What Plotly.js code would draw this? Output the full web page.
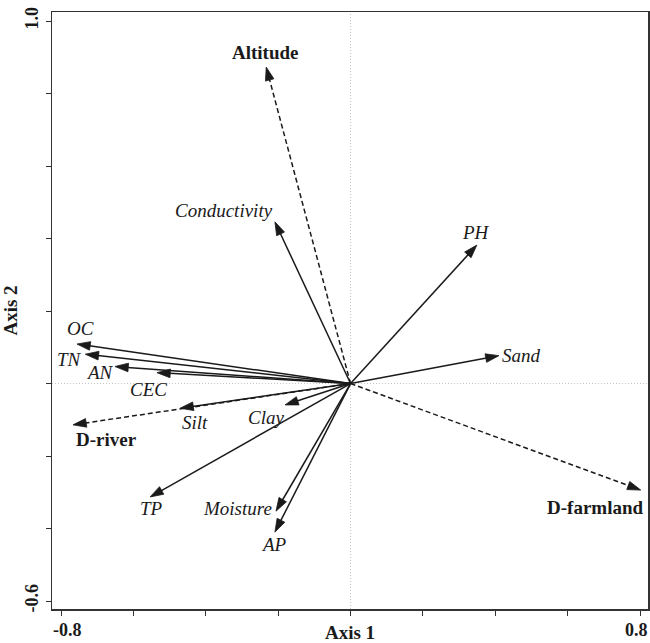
<!DOCTYPE html>
<html>
<head>
<meta charset="utf-8">
<script src="https://cdn.plot.ly/plotly-3.0.1.min.js"></script>
<style>html,body{margin:0;padding:0;background:#fff}#chart{width:650px;height:643px}</style>
</head>
<body>
<div id="chart"></div>
<script>
// Variable names and their ordination scores (Axis 1, Axis 2)
const names   = ["Altitude","Conductivity","PH","Sand","D-farmland","OC","TN","AN","CEC","Silt","D-river","Clay","TP","Moisture","AP"];
const axis1   = [-0.233, -0.209, 0.349, 0.410, 0.802, -0.756, -0.733, -0.651, -0.535, -0.471, -0.767, -0.181, -0.554, -0.206, -0.209];
const axis2   = [ 0.873,  0.446, 0.382, 0.077, -0.294, 0.109, 0.081, 0.047, 0.030, -0.068, -0.114, -0.059, -0.313, -0.352, -0.410];
const isDistance = [true,false,false,false,true,false,false,false,false,false,true,false,false,false,false];

const xTickVals = [-0.8,-0.6,-0.4,-0.2,0,0.2,0.4,0.6,0.8];
const xTickLabels = ["-0.8","0.8"];
const xTickLabelAt = [-0.8, 0.8];
const yTickVals = [-0.6,-0.4,-0.2,0,0.2,0.4,0.6,0.8,1.0];
const yTickText = ["-0.6","","","","","","","","1.0"];

// label offsets in pixels (layout only)
const labelShift = {
  "Altitude":[-1,15], "Conductivity":[-51,11], "PH":[-1,13], "Sand":[23,0],
  "D-farmland":[-46,-17], "OC":[4,16], "TN":[-16,-5], "AN":[-15,-6],
  "CEC":[-8,-17], "Silt":[15,-14], "D-river":[34,-15], "Clay":[-19,-13],
  "TP":[1,-12], "Moisture":[-39,3], "AP":[-1,-12]
};
const xTickShift = [6,-4];

const ink = "#1a1a1a";
const serif = "Liberation Serif, Times New Roman, serif";

const traces = names.map((n,i)=>({
  type:"scatter", mode:"lines+markers",
  x:[0, axis1[i]], y:[0, axis2[i]],
  line:{color:ink, width:1.5, dash: isDistance[i] ? "5px,3px" : "solid"},
  marker:{symbol:["circle","arrow"], size:[0,14], angleref:"previous", color:ink, opacity:1, line:{width:0.8, color:ink}},
  showlegend:false, hoverinfo:"skip", cliponaxis:false
}));

const annotations = names.map((n,i)=>({
  x:axis1[i], y:axis2[i], xref:"x", yref:"y", text:n, showarrow:false,
  xshift:labelShift[n][0], yshift:labelShift[n][1],
  font:{family:serif, size:19, color:ink, style: isDistance[i] ? "normal" : "italic", weight: isDistance[i] ? "bold" : "normal"}
}));
xTickLabels.forEach((t,i)=>annotations.push({
  x:xTickLabelAt[i], y:0, xref:"x", yref:"paper", yanchor:"top", text:t, showarrow:false,
  xshift:xTickShift[i], yshift:-9,
  font:{family:serif, size:18, weight:"bold", color:ink}
}));

const layout = {
  width:650, height:643,
  margin:{l:52, r:2, t:12, b:34},
  paper_bgcolor:"#fff", plot_bgcolor:"#fff",
  font:{family:serif, color:ink},
  xaxis:{
    range:[-0.825,0.822], tickvals:xTickVals, ticktext:xTickVals.map(()=>""),
    ticks:"outside", ticklen:5, tickwidth:1, tickcolor:"#333",
    showgrid:false, zeroline:false, showline:true, mirror:true,
    linecolor:"#333", linewidth:1.5,
    tickfont:{family:serif, size:18, weight:"bold", color:ink},
    title:{text:"Axis 1", font:{family:serif, size:19, weight:"bold", color:ink}, standoff:18}
  },
  yaxis:{
    range:[-0.622,1.025], tickvals:yTickVals, ticktext:yTickText, tickangle:-90,
    ticks:"outside", ticklen:5, tickwidth:1, tickcolor:"#333",
    showgrid:false, zeroline:false, showline:true, mirror:true,
    linecolor:"#333", linewidth:1.5,
    tickfont:{family:serif, size:18, weight:"bold", color:ink},
    title:{text:"Axis 2", font:{family:serif, size:19, weight:"bold", color:ink}, standoff:4}
  },
  shapes:[
    {type:"line", xref:"x", yref:"paper", x0:0, x1:0, y0:0, y1:1, line:{color:"#c4c4c4", width:1, dash:"1px,2px"}, layer:"below"},
    {type:"line", xref:"paper", yref:"y", x0:0, x1:1, y0:0, y1:0, line:{color:"#c4c4c4", width:1, dash:"1px,2px"}, layer:"below"}
  ],
  annotations:annotations
};

Plotly.newPlot("chart", traces, layout, {displayModeBar:false, staticPlot:true});
</script>
</body>
</html>
